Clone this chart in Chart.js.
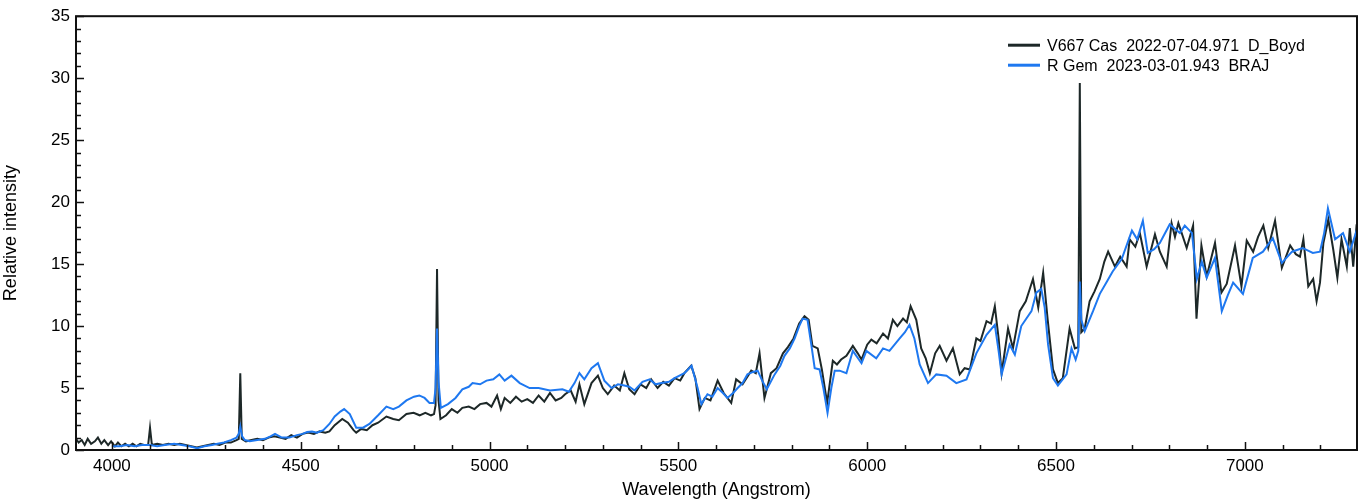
<!DOCTYPE html>
<html>
<head>
<meta charset="utf-8">
<title>V667 Cas / R Gem spectra</title>
<script src="https://cdn.jsdelivr.net/npm/chart.js@4.4.0/dist/chart.umd.min.js"></script>
<style>
  html, body { margin: 0; padding: 0; background: #fff; }
  #wrap { width: 1366px; height: 504px; }
</style>
</head>
<body>
<div id="wrap"><canvas id="spectrum"></canvas></div>
<script>
// series labels, as in the legend
const casLabel = 'V667 Cas  2022-07-04.971  D_Boyd'
const gemLabel = 'R Gem  2023-03-01.943  BRAJ'

// V667 Cas (black) - wavelength (Angstrom) and relative intensity
const casWave = [3905,3912,3920,3928,3936,3945,3955,3963,3972,3980,3990,3998,4008,4016,4025,4035,4045,4055,4065,4075,4085,4096,4101,4106,4120,4135,4150,4165,4180,4195,4210,4225,4240,4255,4270,4285,4300,4315,4330,4336,4340,4344,4355,4370,4385,4400,4415,4430,4445,4460,4475,4490,4505,4520,4535,4550,4565,4576,4590,4610,4625,4640,4647,4660,4675,4690,4705,4727,4745,4760,4780,4799,4815,4830,4845,4853,4857,4861,4865,4870,4885,4900,4915,4928,4945,4960,4975,4992,5005,5020,5030,5040,5055,5070,5085,5100,5115,5130,5145,5160,5175,5190,5200,5215,5228,5238,5251,5270,5287,5300,5313,5330,5345,5357,5370,5384,5400,5415,5428,5445,5460,5475,5490,5505,5516,5534,5545,5556,5570,5585,5604,5620,5640,5653,5670,5693,5705,5715,5728,5745,5760,5777,5790,5805,5820,5834,5845,5855,5869,5880,5894,5909,5920,5931,5945,5962,5975,5985,6000,6011,6025,6042,6055,6068,6080,6095,6105,6115,6130,6143,6155,6166,6180,6192,6210,6227,6245,6258,6272,6289,6300,6316,6328,6338,6348,6356,6373,6386,6404,6420,6439,6453,6466,6478,6492,6505,6518,6536,6550,6559,6563,6567,6576,6589,6602,6616,6628,6638,6656,6670,6687,6695,6710,6722,6740,6762,6775,6793,6806,6815,6824,6846,6863,6872,6885,6899,6921,6938,6952,6974,6991,7005,7022,7035,7049,7062,7080,7098,7120,7135,7146,7155,7168,7181,7190,7199,7208,7221,7234,7245,7256,7270,7278,7287,7296]
const casFlux = [0.9,0.6,0.8,0.4,0.9,0.5,0.7,1.0,0.5,0.8,0.4,0.7,0.3,0.6,0.3,0.5,0.3,0.5,0.3,0.5,0.4,0.4,1.8,0.4,0.5,0.4,0.5,0.4,0.5,0.4,0.3,0.2,0.3,0.4,0.5,0.4,0.6,0.6,0.8,0.9,6.2,0.9,0.7,0.8,0.9,0.8,1.0,1.1,1.0,0.9,1.2,1.0,1.3,1.4,1.3,1.5,1.4,1.5,2.0,2.5,2.2,1.6,1.4,1.7,1.6,2.0,2.2,2.7,2.5,2.4,2.9,3.0,2.8,3.0,2.8,2.9,3.6,14.6,4.0,2.5,2.8,3.3,3.0,3.4,3.5,3.3,3.7,3.8,3.5,4.4,3.3,4.2,3.8,4.3,3.9,4.1,3.8,4.4,3.9,4.6,4.0,4.2,4.5,4.8,3.9,5.3,3.7,5.4,6.0,5.0,4.5,5.2,4.8,6.2,4.9,4.5,5.3,5.0,5.7,5.0,5.5,5.2,5.8,5.6,6.2,6.8,5.8,3.3,4.2,4.0,5.6,4.6,3.8,5.7,5.3,6.4,6.2,7.8,4.2,6.2,6.6,7.8,8.3,9.0,10.2,10.8,10.5,8.4,8.2,6.5,3.8,7.2,6.9,7.3,7.6,8.4,7.8,7.3,8.5,8.9,8.6,9.4,9.0,10.5,10.0,10.6,10.3,11.6,10.5,8.2,7.4,6.2,7.8,8.4,7.2,8.2,6.1,6.6,6.5,9.0,8.8,10.4,10.2,11.6,9.0,6.2,9.8,8.2,11.2,12.0,13.8,11.5,14.3,10.5,6.5,5.4,5.8,9.8,8.2,8.3,29.6,9.5,9.8,12.0,12.8,13.8,15.2,16.0,14.8,15.6,14.8,17.0,16.4,17.5,14.8,17.4,16.0,14.8,18.3,17.2,18.3,16.3,18.1,10.6,16.5,14.0,16.7,12.7,13.4,16.5,13.2,16.9,16.0,17.2,18.1,16.3,18.5,14.7,16.5,15.8,15.6,17.0,13.2,13.8,12.0,13.5,16.7,18.6,16.2,13.9,17.0,14.8,17.9,14.8,18.2]

// R Gem (blue)
const gemWave = [4000,4020,4040,4060,4080,4100,4120,4140,4165,4185,4205,4226,4245,4265,4280,4297,4315,4330,4336,4340,4345,4352,4365,4385,4405,4420,4432,4450,4470,4490,4505,4517,4530,4543,4560,4576,4590,4605,4615,4630,4647,4665,4682,4705,4727,4745,4760,4780,4800,4814,4828,4841,4853,4857,4861,4865,4871,4890,4910,4928,4945,4955,4975,4992,5010,5026,5040,5058,5080,5106,5130,5160,5193,5210,5225,5238,5251,5270,5287,5304,5323,5340,5357,5370,5384,5405,5424,5440,5455,5475,5490,5516,5535,5551,5561,5577,5590,5604,5618,5630,5645,5657,5670,5683,5698,5710,5722,5734,5755,5770,5781,5795,5808,5820,5829,5842,5852,5861,5874,5884,5895,5905,5914,5927,5945,5962,5985,5998,6024,6042,6059,6086,6100,6112,6125,6139,6161,6183,6210,6236,6263,6289,6316,6338,6348,6356,6377,6391,6408,6435,6448,6461,6470,6479,6492,6505,6528,6541,6552,6559,6563,6567,6576,6598,6616,6633,6650,6674,6701,6715,6730,6743,6760,6775,6801,6828,6841,6860,6873,6886,6899,6921,6939,6955,6969,6995,7021,7048,7074,7098,7125,7153,7180,7199,7210,7220,7239,7260,7278,7297]
const gemFlux = [0.3,0.3,0.4,0.3,0.4,0.4,0.3,0.4,0.5,0.4,0.3,0.15,0.3,0.4,0.5,0.6,0.8,1.0,1.3,1.9,1.1,0.8,0.7,0.8,0.9,1.1,1.3,1.0,1.0,1.2,1.3,1.45,1.5,1.4,1.6,2.1,2.7,3.1,3.3,2.9,1.8,1.8,2.1,2.8,3.5,3.3,3.5,4.0,4.3,4.4,4.2,3.8,3.8,5.0,9.8,5.5,3.4,3.7,4.2,4.9,5.1,5.4,5.3,5.6,5.7,6.1,5.6,6.0,5.4,5.0,5.0,4.8,4.9,4.7,5.4,6.2,5.7,6.6,7.0,5.6,5.0,5.3,5.2,5.1,4.8,5.5,5.7,5.3,5.4,5.5,5.8,6.2,6.8,5.0,3.7,4.5,4.3,5.0,4.6,4.2,4.6,5.0,5.4,6.1,6.3,6.4,5.6,4.9,6.1,6.8,7.6,8.2,9.0,10.0,10.6,10.5,8.5,6.6,6.5,5.0,3.0,5.0,6.4,6.4,6.2,8.0,7.0,8.0,7.4,8.2,8.0,9.0,9.5,10.1,9.0,6.9,5.4,6.1,6.0,5.4,5.7,7.8,9.3,10.1,8.0,6.1,8.5,7.7,10.0,11.2,12.7,13.0,11.5,8.5,5.8,5.2,6.1,8.2,7.3,8.0,13.6,10.5,9.6,11.2,12.6,13.5,14.4,15.4,17.7,17.0,18.5,15.9,16.2,16.7,18.2,17.5,18.1,17.5,13.8,15.2,13.9,15.5,11.2,12.5,13.5,12.6,15.5,16.0,17.1,15.1,16.0,16.3,15.9,16.0,17.5,19.5,17.0,17.5,16.0,17.8]

// axis ranges and labelled ticks
const xMin = 3905, xMax = 7297
const xTicks = [4000, 4500, 5000, 5500, 6000, 6500, 7000]
const yMin = 0, yMax = 35
const yTicks = [0, 5, 10, 15, 20, 25, 30, 35]

const toPoints = (w, f) => w.map((x, i) => ({ x: x, y: f[i] }))
const fontFam = '"Liberation Sans", Arial, sans-serif'

// frame, inside tick marks and legend, drawn over the plot
const framePlugin = {
  id: 'frame',
  afterDatasetsDraw(chart) {
    const ctx = chart.ctx
    const a = chart.chartArea
    const xs = chart.scales.x, ys = chart.scales.y
    ctx.save()
    ctx.strokeStyle = '#111'
    ctx.lineWidth = 1.5
    ctx.beginPath()
    for (let v = Math.ceil(xs.min / 100) * 100; v <= xs.max; v += 100) {
      const px = Math.round(xs.getPixelForValue(v)) + 0.5
      const len = v % 500 === 0 ? 8 : 5
      ctx.moveTo(px, a.bottom)
      ctx.lineTo(px, a.bottom - len)
    }
    for (let v = ys.min; v <= ys.max; v += 1) {
      const py = Math.round(ys.getPixelForValue(v)) + 0.5
      const len = v % 5 === 0 ? 8 : 5
      ctx.moveTo(a.left, py)
      ctx.lineTo(a.left + len, py)
    }
    ctx.stroke()
    ctx.lineWidth = 2
    ctx.strokeRect(a.left, a.top, a.right - a.left, a.bottom - a.top)

    // legend
    ctx.font = '16px ' + fontFam
    ctx.textBaseline = 'middle'
    ctx.fillStyle = '#000'
    chart.data.datasets.forEach((ds, i) => {
      const ly = a.top + 29 + i * 20
      ctx.strokeStyle = ds.borderColor
      ctx.lineWidth = 3
      ctx.beginPath()
      ctx.moveTo(a.right - 349, ly)
      ctx.lineTo(a.right - 317, ly)
      ctx.stroke()
      ctx.fillText(ds.label, a.right - 310, ly + 1)
    })
    ctx.restore()
  }
}

new Chart(document.getElementById('spectrum'), {
  type: 'line',
  data: {
    datasets: [
      {
        label: casLabel,
        data: toPoints(casWave, casFlux),
        borderColor: '#1d2828',
        borderWidth: 2,
        pointRadius: 0,
        tension: 0,
        order: 1,
      },
      {
        label: gemLabel,
        data: toPoints(gemWave, gemFlux),
        borderColor: '#1e78f0',
        borderWidth: 2,
        pointRadius: 0,
        tension: 0,
        order: 0,
      },
    ],
  },
  options: {
    responsive: true,
    maintainAspectRatio: false,
    animation: false,
    layout: { padding: { top: 15, right: 9, left: 0, bottom: 0 } },
    plugins: { legend: { display: false }, tooltip: { enabled: false } },
    scales: {
      x: {
        type: 'linear',
        min: xMin,
        max: xMax,
        afterBuildTicks: s => { s.ticks = xTicks.map(v => ({ value: v })) },
        afterFit: s => { s.height = 54 },
        grid: { display: false, drawTicks: false },
        border: { display: false },
        ticks: {
          autoSkip: false,
          maxRotation: 0,
          padding: 6,
          color: '#000',
          font: { family: fontFam, size: 17 },
          callback: v => String(v),
        },
        title: {
          display: true,
          text: 'Wavelength (Angstrom)',
          color: '#000',
          font: { family: fontFam, size: 18 },
          padding: { top: 0, bottom: 3 },
        },
      },
      y: {
        min: yMin,
        max: yMax,
        afterBuildTicks: s => { s.ticks = yTicks.map(v => ({ value: v })) },
        afterFit: s => { s.width = 76 },
        grid: { display: false, drawTicks: false },
        border: { display: false },
        ticks: {
          padding: 6,
          color: '#000',
          font: { family: fontFam, size: 17 },
        },
        title: {
          display: true,
          text: 'Relative intensity',
          color: '#000',
          font: { family: fontFam, size: 18 },
          padding: { top: 0, bottom: 6 },
        },
      },
    },
  },
  plugins: [framePlugin],
})
</script>
</body>
</html>
